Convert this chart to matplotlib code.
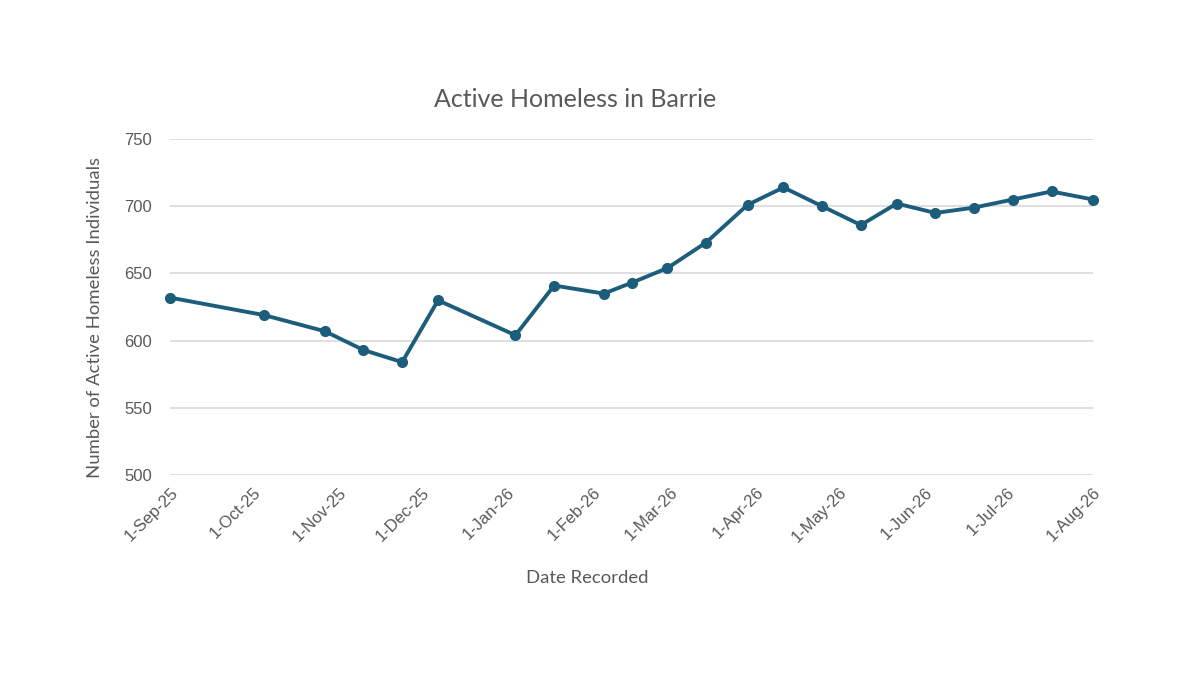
import pandas as pd
import matplotlib.pyplot as plt
import matplotlib.dates as mdates

# dates and counts
dates = ['2025-09-01', '2025-10-05', '2025-10-27', '2025-11-10', '2025-11-24',
         '2025-12-07', '2026-01-04', '2026-01-18', '2026-02-05', '2026-02-15',
         '2026-02-28', '2026-03-14', '2026-03-29', '2026-04-11', '2026-04-25',
         '2026-05-09', '2026-05-22', '2026-06-05', '2026-06-19', '2026-07-03',
         '2026-07-17', '2026-08-01']
counts = [632, 619, 607, 593, 584, 630, 604, 641, 635, 643, 654, 673,
          701, 714, 700, 686, 702, 695, 699, 705, 711, 705]
y_ticks = [500, 550, 600, 650, 700, 750]

df = pd.DataFrame({'date': pd.to_datetime(dates), 'count': counts})

line_color = '#1c5d7c'
text_color = '#595959'

fig = plt.figure(figsize=(12, 6.75), dpi=100)
ax = fig.add_axes([0.1417, 0.2963, 0.7691, 0.4977])

ax.plot(df['date'], df['count'], color=line_color, linewidth=2.8,
        marker='o', markersize=7, zorder=3, clip_on=False)

ax.set_xlim(df['date'].iloc[0], df['date'].iloc[-1])
ax.set_ylim(500, 750)
ax.set_yticks(y_ticks)
ax.xaxis.set_major_locator(mdates.MonthLocator(bymonthday=1))
ax.xaxis.set_major_formatter(mdates.DateFormatter('%-d-%b-%y'))

ax.grid(axis='y', color='#d9d9d9', linewidth=1.2)
ax.grid(axis='x', visible=False)
ax.set_axisbelow(True)
for s in ax.spines.values():
    s.set_visible(False)
ax.tick_params(length=0)
ax.tick_params(axis='y', pad=13, labelsize=12, labelcolor=text_color)
ax.tick_params(axis='x', pad=7, labelsize=12, labelcolor=text_color)
for lbl in ax.get_yticklabels():
    lbl.set_family('Liberation Sans')
for lbl in ax.get_xticklabels():
    lbl.set_family('Liberation Sans')
    lbl.set_rotation(45)
    lbl.set_ha('right')
    lbl.set_va('top')
    lbl.set_rotation_mode('anchor')

fig.text(0.479, 0.852, 'Active Homeless in Barrie', ha='center', va='center',
         fontsize=18, color=text_color, family='Lato')
fig.text(0.489, 0.143, 'Date Recorded', ha='center', va='center',
         fontsize=13.3, color=text_color, family='Lato')
fig.text(0.079, 0.529, 'Number of Active Homeless Individuals', ha='center',
         va='center', rotation=90, fontsize=13.3, color=text_color, family='Lato')

fig.savefig('out.png', dpi=100, facecolor='white')
